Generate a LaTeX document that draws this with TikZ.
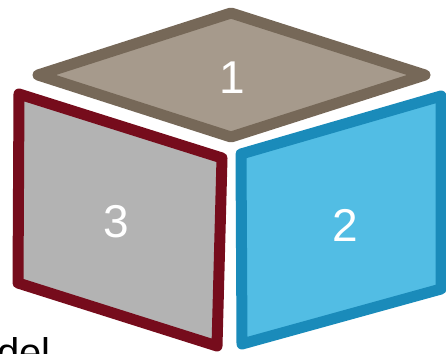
\documentclass[tikz,border=0pt]{standalone}
\usepackage{fontspec}
\setmainfont{Liberation Sans}
\usetikzlibrary{positioning}
\definecolor{topFill}{HTML}{A69A8C}
\definecolor{topEdge}{HTML}{766858}
\definecolor{leftFill}{HTML}{B3B3B3}
\definecolor{leftEdge}{HTML}{760C1C}
\definecolor{rightFill}{HTML}{52BDE4}
\definecolor{rightEdge}{HTML}{1A8BBA}
\begin{document}
\begin{tikzpicture}[x=1pt, y=-1pt, face/.style={line width=11pt, line join=round}, num/.style={text=white, inner sep=0pt, font=\fontsize{46}{46}\selectfont}]
        \useasboundingbox (0,0) rectangle (446,353);
        \draw[face, fill=topFill, draw=topEdge] (231,13) -- (425,75) -- (231,137) -- (38,75) -- cycle;
        \draw[face, fill=leftFill, draw=leftEdge] (19,94) -- (222,158) -- (217,346) -- (18,283) -- cycle;
        \draw[face, fill=rightFill, draw=rightEdge] (241,154) -- (441,96) -- (441,289) -- (242,344) -- cycle;
        \node[num] (one) at (232,78) {1};
        \node[num] (three) at (116,222) {3};
        \node[num] (two) at (345,225) {2};
        \node[anchor=base west, inner sep=0pt, font=\fontsize{40}{40}\selectfont] (del) at (-3,366) {del};
      \end{tikzpicture}
\end{document}
